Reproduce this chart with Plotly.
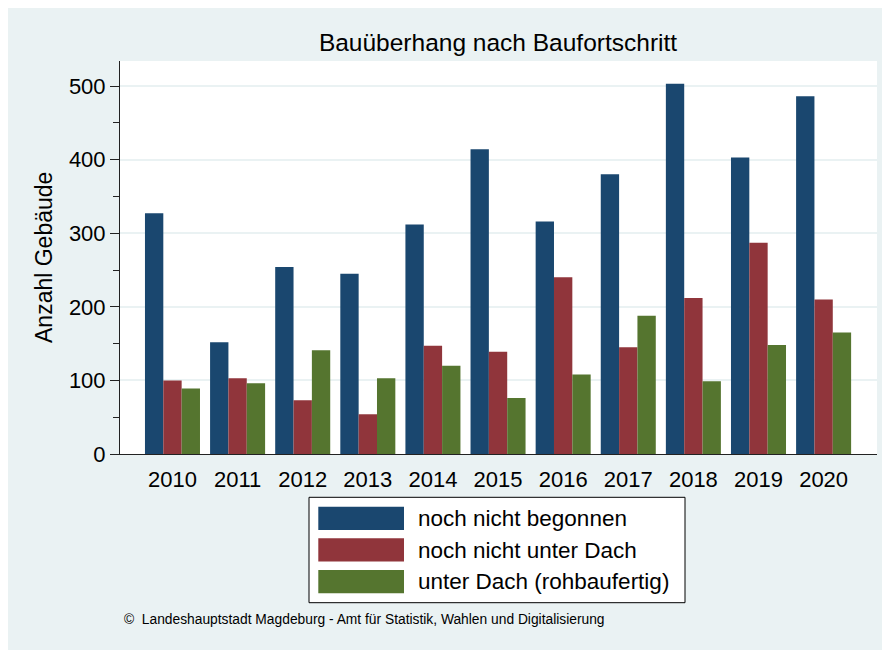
import plotly.graph_objects as go

years = ["2010", "2011", "2012", "2013", "2014", "2015", "2016", "2017", "2018", "2019", "2020"]
noch_nicht_begonnen = [327, 152, 254, 245, 312, 414, 316, 380, 503, 403, 486]
noch_nicht_unter_dach = [100, 103, 73, 54, 147, 139, 240, 145, 212, 287, 210]
unter_dach = [89, 96, 141, 103, 120, 76, 108, 188, 99, 148, 165]
series_names = ["noch nicht begonnen", "noch nicht unter Dach", "unter Dach (rohbaufertig)"]
series_colors = ["#1a476f", "#90353b", "#55752f"]
y_ticks = [0, 100, 200, 300, 400, 500]

FONT = "Liberation Sans, Arial, Helvetica, sans-serif"

OFF = 8  # page body margin
W, H = 882, 642
L, R, T, B = 120 - OFF, 877 - OFF, 61 - OFF, 454 - OFF
pw, ph = R - L, B - T


def px(x):
    return (x - OFF - L) / pw


def py(y):
    return (B - (y - OFF)) / ph


fig = go.Figure()
for name, vals, col in zip(series_names, [noch_nicht_begonnen, noch_nicht_unter_dach, unter_dach], series_colors):
    fig.add_trace(go.Bar(x=years, y=vals, name=name, marker=dict(color=col, line=dict(width=0)),
                         showlegend=False))

shapes = []
# legend box
shapes.append(dict(type="rect", xref="paper", yref="paper", x0=px(309), x1=px(685), y0=py(497.3), y1=py(602.7),
                   fillcolor="white", line=dict(color="black", width=1), layer="above"))
annotations = []
row_tops = [506.7, 538.3, 570.0]
for i, (name, col) in enumerate(zip(series_names, series_colors)):
    t = row_tops[i]
    shapes.append(dict(type="rect", xref="paper", yref="paper", x0=px(318.3), x1=px(404), y0=py(t), y1=py(t + 23.3),
                       fillcolor=col, line=dict(width=0), layer="above"))
    annotations.append(dict(text=name, xref="paper", yref="paper", x=px(416), y=py(t + 11.7),
                            xanchor="left", yanchor="middle", showarrow=False,
                            font=dict(family=FONT, size=22.5, color="black")))

# y axis title
annotations.append(dict(text="Anzahl Gebäude", xref="paper", yref="paper", x=px(43.5), y=0.5,
                        xanchor="center", yanchor="middle", textangle=-90, showarrow=False,
                        font=dict(family=FONT, size=23, color="black")))
# footer
annotations.append(dict(text="©  Landeshauptstadt Magdeburg - Amt für Statistik, Wahlen und Digitalisierung",
                        xref="paper", yref="paper", x=px(122), y=py(619), xanchor="left", yanchor="middle",
                        showarrow=False, font=dict(family=FONT, size=13.8, color="black")))

fig.update_layout(
    width=W, height=H,
    margin=dict(l=L, r=W - R, t=T, b=H - B, pad=0),
    paper_bgcolor="#eaf2f3",
    plot_bgcolor="white",
    barmode="group",
    bargap=0.155,
    bargroupgap=0,
    title=dict(text="Bauüberhang nach Baufortschritt", x=(498 - OFF) / W, y=1 - (42 - OFF) / H,
               xanchor="center", yanchor="middle",
               font=dict(family=FONT, size=24.5, color="black")),
    shapes=shapes,
    annotations=annotations,
    font=dict(family=FONT, color="black"),
)

fig.update_xaxes(type="category", range=[-0.806, 10.82], showline=True, linecolor="#222", linewidth=1,
                 ticks="", showgrid=False, tickfont=dict(family=FONT, size=22, color="black"),
                 ticklabelstandoff=6)
fig.update_yaxes(range=[0, 534], tickvals=y_ticks, ticks="outside", ticklen=9, tickcolor="#222",
                 showline=True, linecolor="#222", linewidth=1, showgrid=True, gridcolor="#eaf2f3",
                 gridwidth=1.5, zeroline=False, tickfont=dict(family=FONT, size=22, color="black"),
                 minor=dict(dtick=50, tick0=0, ticks="outside", ticklen=6, tickcolor="#222", showgrid=False))

fig.write_html("out.html")
